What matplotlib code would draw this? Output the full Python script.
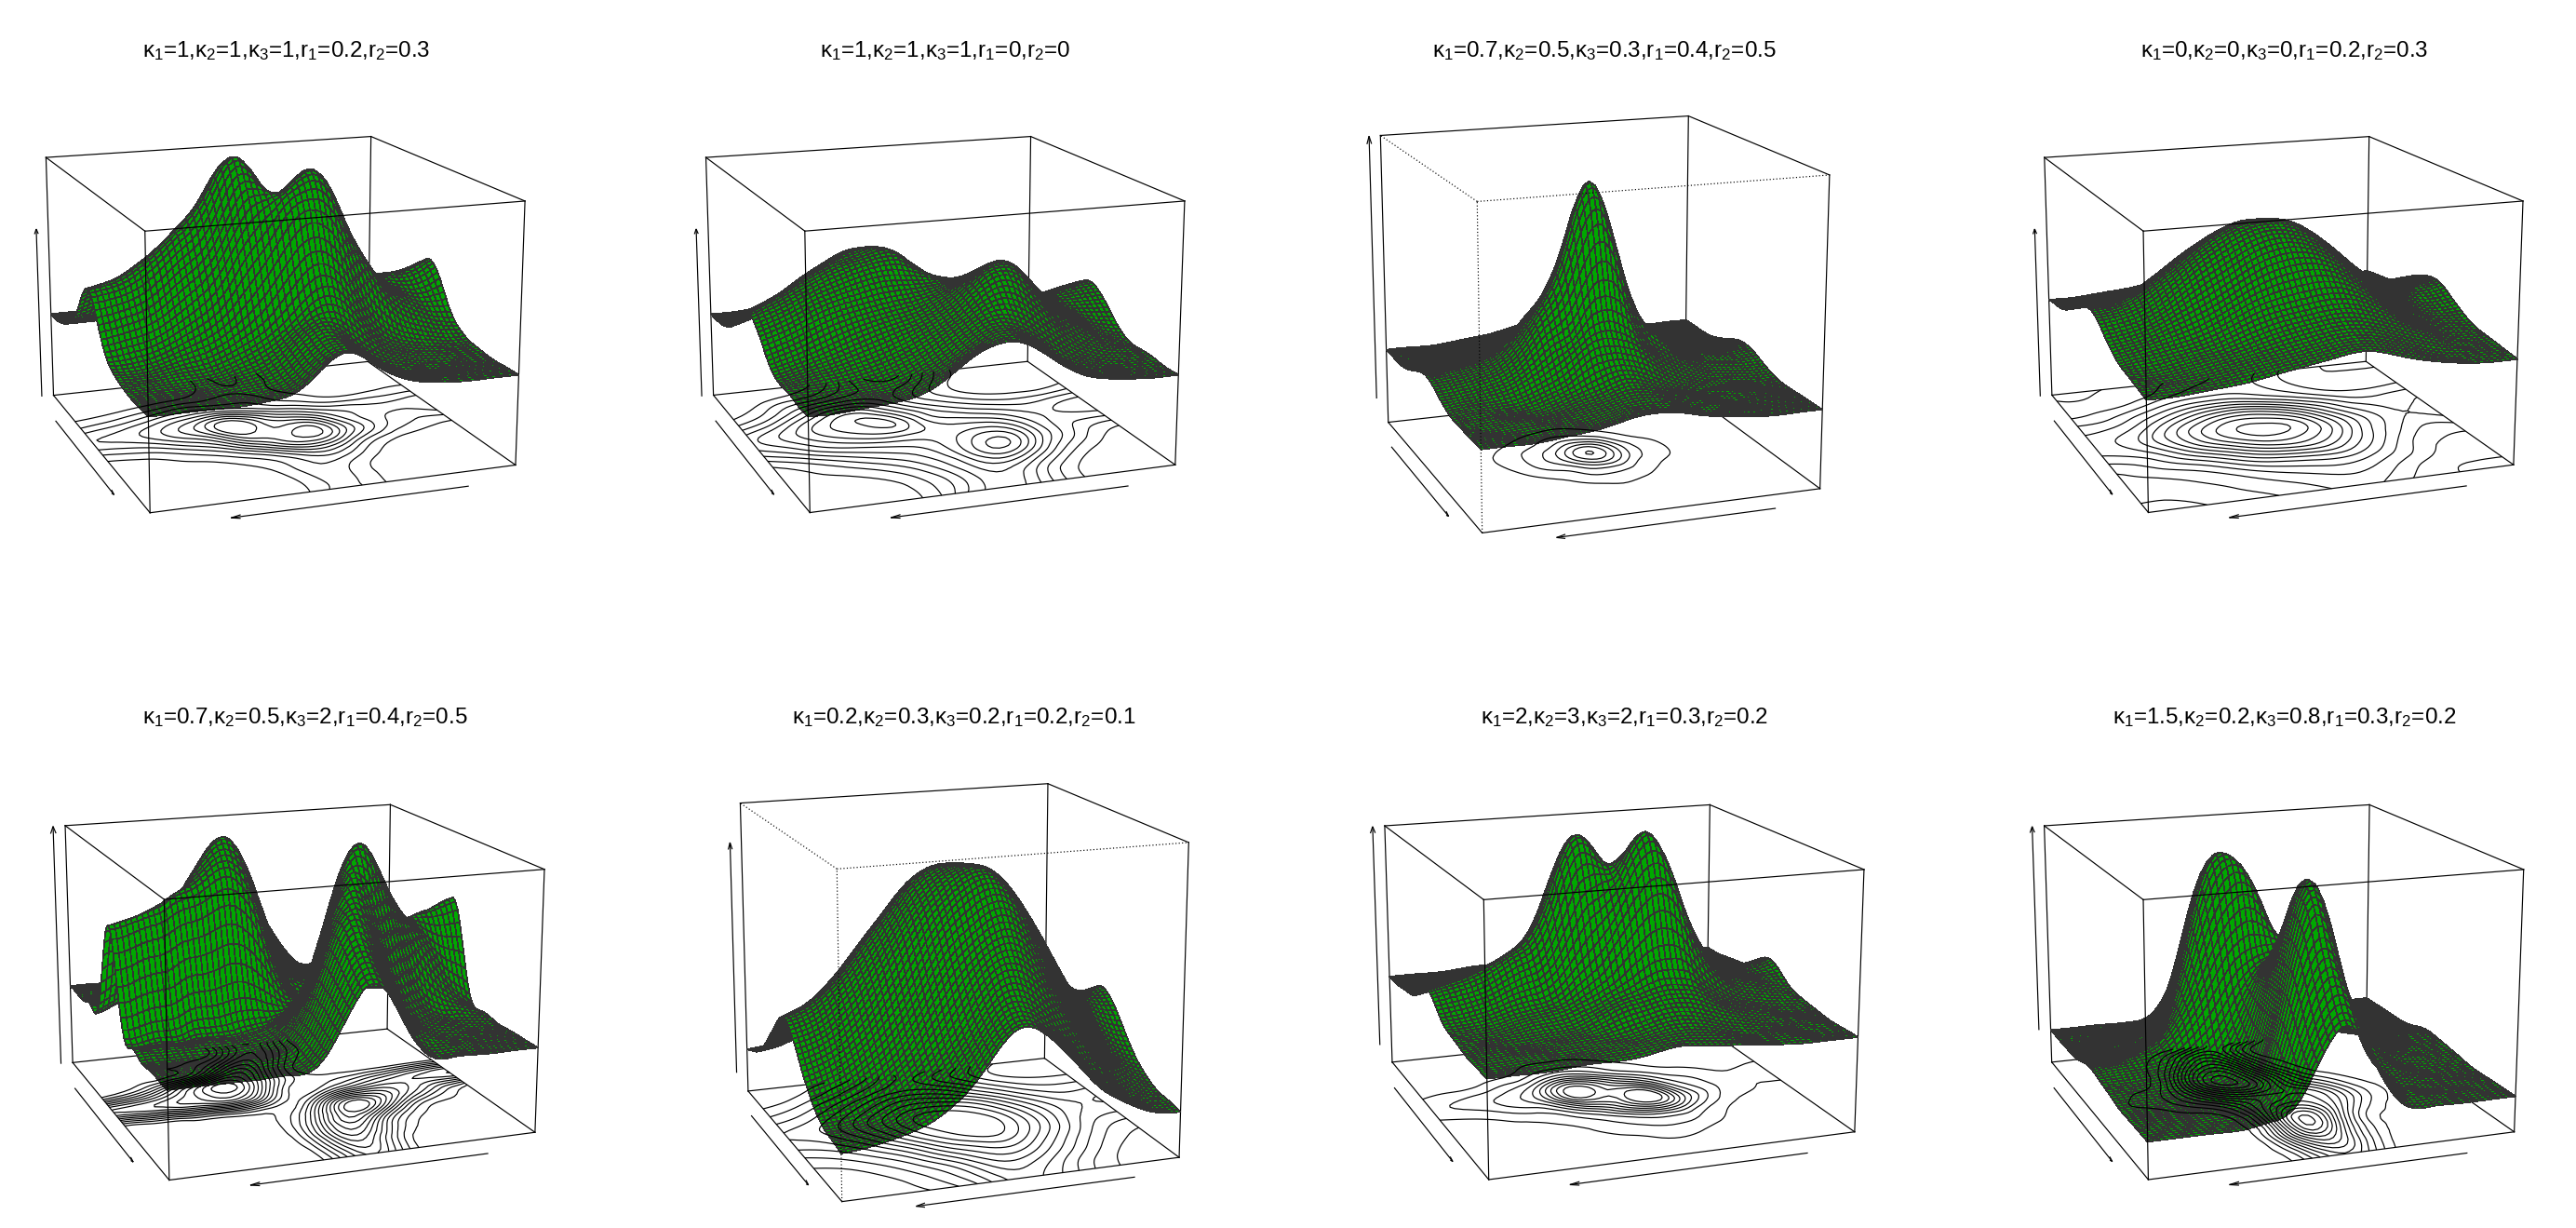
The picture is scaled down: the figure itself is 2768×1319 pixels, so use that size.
import numpy as np
import matplotlib
matplotlib.use('Agg')
import matplotlib.pyplot as plt
import matplotlib.tri as mtri
from mpl_toolkits.mplot3d import proj3d

plt.rcParams['font.family'] = ['Liberation Sans', 'DejaVu Sans']
plt.rcParams['mathtext.fontset'] = 'custom'
plt.rcParams['mathtext.rm'] = 'Liberation Sans'
plt.rcParams['mathtext.it'] = 'Liberation Sans'
plt.rcParams['mathtext.default'] = 'regular'

# panel parameters from the titles
kappa1 = ['1', '1', '0.7', '0', '0.7', '0.2', '2', '1.5']
kappa2 = ['1', '1', '0.5', '0', '0.5', '0.3', '3', '0.2']
kappa3 = ['1', '1', '0.3', '0', '2', '0.2', '2', '0.8']
r1 = ['0.2', '0', '0.4', '0.2', '0.4', '0.2', '0.3', '0.3']
r2 = ['0.3', '0', '0.5', '0.3', '0.5', '0.1', '0.2', '0.2']

# surface heights, in percent of box height
# rows run along the short floor edge, columns along the long floor edge
z1 = [[35,35,35,35,36,41,50,46,39,36,35,35,35],
      [35,35,35,35,36,41,50,47,39,36,35,35,35],
      [35,35,35,36,38,44,53,50,41,37,35,35,35],
      [36,36,37,38,42,48,58,62,50,40,37,36,36],
      [38,38,41,45,52,64,80,84,68,50,42,39,38],
      [44,46,50,58,70,88,96,103,88,66,52,46,44],
      [56,58,64,74,88,104,94,98,84,64,55,52,56],
      [60,63,70,80,94,104,88,78,68,60,56,56,60],
      [50,54,60,68,74,76,66,58,52,47,47,48,50],
      [41,43,47,52,56,54,54,48,43,39,38,40,41],
      [37,37,38,40,42,46,48,44,39,37,36,36,37],
      [35,35,35,36,37,42,48,45,39,36,35,35,35],
      [35,35,35,35,36,41,50,46,39,36,35,35,35]]
z2 = [[35,35,36,37,41,49,54,52,44,38,36,35,35],
      [35,35,36,37,41,47,54,54,46,39,36,35,35],
      [36,36,37,39,43,49,56,59,53,44,38,36,36],
      [36,38,40,43,47,52,59,67,64,52,43,38,36],
      [38,41,45,49,52,55,61,69,70,58,48,41,38],
      [44,48,53,56,58,59,61,65,66,58,49,45,44],
      [50,54,59,63,66,66,62,60,59,54,49,49,50],
      [51,56,62,67,70,70,60,55,52,49,47,49,51],
      [45,50,58,65,69,64,56,50,46,43,42,43,45],
      [39,43,50,57,60,57,50,45,41,38,37,37,39],
      [36,39,44,47,50,51,49,44,39,36,35,35,36],
      [35,36,38,40,44,49,51,48,41,37,35,35,35],
      [35,35,36,37,41,49,54,52,44,38,36,35,35]]
z3 = [[26,26,26,27,28,30,31,30,28,27,26,26,26],
      [26,26,26,27,28,30,31,30,28,27,26,26,26],
      [26,26,27,27,29,31,33,31,29,27,26,26,26],
      [26,27,27,28,31,35,37,34,30,28,27,26,26],
      [27,28,29,32,37,44,46,41,34,30,28,27,27],
      [29,30,32,37,46,56,68,52,39,33,30,29,29],
      [31,32,34,40,52,72,90,62,42,34,31,30,31],
      [31,32,34,39,48,62,76,54,38,33,31,30,31],
      [29,30,31,34,40,47,47,39,33,30,29,29,29],
      [27,28,28,30,33,36,36,32,29,28,27,27,27],
      [26,26,27,28,29,31,32,30,28,27,26,26,26],
      [26,26,26,27,28,30,31,30,28,27,26,26,26],
      [26,26,26,27,28,30,31,30,28,27,26,26,26]]
z4 = [[41,41,42,43,45,47,49,50,47,44,42,41,41],
      [42,42,43,45,47,49,51,52,50,46,43,42,42],
      [43,43,45,47,50,53,55,56,54,50,46,43,43],
      [44,46,48,51,56,60,62,63,60,54,48,45,44],
      [47,49,53,58,64,70,73,72,66,58,51,47,47],
      [51,53,58,66,73,79,81,78,71,61,54,50,51],
      [54,56,62,70,78,83,84,81,72,62,55,52,54],
      [53,55,60,68,75,80,80,76,67,58,53,51,53],
      [50,51,55,61,67,71,71,66,59,53,49,49,50],
      [46,47,50,54,58,60,59,55,51,47,45,45,46],
      [43,44,45,48,51,52,52,50,47,44,43,43,43],
      [42,42,43,44,47,49,50,49,46,43,42,42,42],
      [41,41,42,43,45,47,49,50,47,44,42,41,41]]
z5 = [[33,33,33,33,33,40,60,58,38,33,33,33,33],
      [33,33,33,33,33,42,66,66,42,34,33,33,33],
      [33,33,33,33,34,44,72,78,52,37,34,33,33],
      [33,33,33,33,34,43,70,90,68,44,36,34,33],
      [34,34,34,34,35,40,60,94,96,66,44,38,34],
      [38,40,42,44,46,42,46,78,94,82,64,48,38],
      [67,70,74,78,82,66,42,48,62,68,68,66,67],
      [66,70,78,88,98,84,50,40,44,50,56,62,66],
      [37,44,58,78,96,90,60,40,36,35,35,36,37],
      [34,35,38,44,62,82,66,40,34,33,33,33,34],
      [33,33,34,38,44,62,68,48,36,33,33,33,33],
      [33,33,33,34,36,44,62,54,38,33,33,33,33],
      [33,33,33,33,33,40,60,58,38,33,33,33,33]]
z6 = [[15,16,18,21,27,37,47,45,36,26,20,16,15],
      [16,17,19,24,31,41,51,50,41,30,22,17,16],
      [17,18,22,28,36,47,58,59,50,38,27,20,17],
      [20,22,27,34,45,57,66,69,60,46,33,24,20],
      [25,28,34,43,55,68,76,79,70,55,40,29,25],
      [32,35,42,53,66,77,84,85,76,61,45,35,32],
      [38,41,49,60,72,82,86,85,76,61,47,39,38],
      [39,43,51,62,73,82,84,80,70,56,44,38,39],
      [33,37,45,55,65,73,74,70,60,47,37,32,33],
      [26,30,37,46,55,62,62,57,47,37,29,26,26],
      [20,23,29,36,44,50,51,46,37,28,22,20,20],
      [17,18,22,28,35,43,46,39,31,23,18,17,17],
      [15,16,18,21,27,37,47,45,36,26,20,16,15]]
z7 = [[37,37,37,38,38,39,41,40,39,38,37,37,37],
      [37,37,38,38,39,40,42,42,40,38,38,37,37],
      [37,38,38,39,40,42,45,46,43,40,38,38,37],
      [38,38,39,40,42,47,50,52,49,43,40,38,38],
      [39,39,41,43,46,52,62,70,62,48,42,40,39],
      [41,42,45,48,55,70,84,100,82,57,46,43,41],
      [46,48,52,58,72,96,92,102,76,55,47,44,46],
      [47,50,54,60,78,102,90,78,60,50,45,44,47],
      [42,44,46,52,62,78,70,56,48,44,42,41,42],
      [39,40,41,43,48,54,52,46,43,41,39,39,39],
      [38,38,39,40,43,44,44,42,40,38,38,38,38],
      [37,37,38,39,40,41,42,41,39,38,37,37,37],
      [37,37,37,38,38,39,41,40,39,38,37,37,37]]
z8 = [[14,14,14,14,16,27,47,38,18,14,14,14,14],
      [14,14,14,14,16,34,60,48,22,15,14,14,14],
      [14,14,14,14,16,44,78,58,26,16,14,14,14],
      [14,14,14,14,17,44,90,72,30,18,15,14,14],
      [15,15,15,15,18,44,84,76,42,22,16,15,15],
      [16,16,17,18,24,46,66,66,50,28,18,16,16],
      [17,18,19,26,40,56,60,60,46,26,18,17,17],
      [17,18,21,32,60,82,76,50,32,20,17,17,17],
      [15,16,18,30,72,94,76,44,22,16,15,15,15],
      [14,15,16,24,62,86,66,32,18,15,14,14,14],
      [14,14,15,20,44,70,54,24,16,14,14,14,14],
      [14,14,14,17,30,52,46,20,15,14,14,14,14],
      [14,14,14,14,16,27,47,38,18,14,14,14,14]]
surfaces = [z1, z2, z3, z4, z5, z6, z7, z8]

W, H = 2768, 1319
LINE_W = 0.85
MESH_W = 0.5
GREEN = '#00A800'
MESH = '#333333'
NMESH = 66
ELEV, AZIM = 15.1, -110.0

focal = [.62, .62, .68, .62, .62, .68, .62, .62]
box_h = [.708, .708, .905, .708, .705, .91, .703, .703]
level_start = [41.5, 38.5, 36, 41.8, 38, 21, 43.5, 19]
level_step = [6.5, 3.5, 9, 3.4, 5, 6, 6, 6]
z_arrow = [(0, .71), (0, .71), (.09, 1), (0, .71), (0, 1), (.07, .87), (.08, 1), (.145, 1)]
dotted_front = [False, False, True, False, False, True, False, False]
title_xy = [(308, 55), (1016, 55), (1724, 55), (2455, 55),
            (328, 771), (1036, 771), (1746, 771), (2455, 771)]

panel_origin = [(0, 0), (690, 0), (1380, 0), (2078, 0),
                (0, 730), (690, 730), (1380, 730), (2078, 730)]
crop_sx = [2.272]*8
crop_sy = [2.6]*4 + [2.65]*4
box_crop = [
    [(365,1432),(1258,1298),(131,1102),(900,1010),(353,645),(1283,562),(112,440),(905,383)],
    [(410,1432),(1303,1298),(175,1102),(940,1008),(395,645),(1326,562),(156,440),(947,383)],
    [(482,1490),(1308,1365),(254,1180),(980,1082),(470,565),(1330,488),(235,378),(988,325)],
    [(522,1432),(1415,1298),(290,1102),(1055,1008),(510,645),(1440,562),(270,440),(1062,383)],
    [(412,1425),(1307,1288),(178,1090),(945,993),(400,625),(1330,540),(160,415),(952,358)],
    [(487,1485),(1310,1360),(258,1170),(983,1078),(475,540),(1335,463),(240,352),(992,296)],
    [(497,1425),(1392,1288),(265,1090),(1035,990),(485,625),(1414,540),(247,415),(1038,358)],
    [(522,1425),(1418,1288),(290,1090),(1058,990),(510,625),(1438,540),(270,415),(1062,358)],
]
cube = [(0,0,0),(1,0,0),(0,1,0),(1,1,0),(0,0,1),(1,0,1),(0,1,1),(1,1,1)]
back_edges = [(2,3),(3,1),(3,7),(6,7),(7,5),(2,6),(1,5),(0,1),(0,2)]
front_edges = [(0,4),(4,5),(4,6)]

grid = np.linspace(0, 1, 13)
fine = np.linspace(0, 1, NMESH)

fig = plt.figure(figsize=(W/100, H/100), dpi=100, facecolor='white')


def place_axes(ax, tgt):
    # scale and shift the square axes so the cube lands on the box corners
    ax.apply_aspect()
    M = ax.get_proj()
    pts = np.array([proj3d.proj_transform(c[0], c[1], c[2], M)[:2] for c in cube])
    xc = pts - pts.mean(axis=0)
    tc = tgt - tgt.mean(axis=0)
    s = (xc*tc).sum() / (xc**2).sum()
    vl = ax.viewLim
    side = s*(vl.x1 - vl.x0)
    left = tgt[:, 0].mean() - s*(pts[:, 0].mean() - vl.x0)
    bottom = tgt[:, 1].mean() - s*(pts[:, 1].mean() - vl.y0)
    ax.set_position([left/W, bottom/H, side/W, side/H])


for i in range(8):
    ax = fig.add_axes([0.3, 0.1, 0.2, 0.4], projection='3d')
    ax.computed_zorder = False
    ax.set_facecolor('none')
    ax.set_axis_off()
    ax.view_init(elev=ELEV, azim=AZIM)
    ax.set_proj_type('persp', focal_length=focal[i])
    ax.set_box_aspect((1, 1, box_h[i]))

    # smooth the read table only for drawing the fine mesh
    G0, G1 = np.meshgrid(grid, grid)
    table = np.array(surfaces[i], float)/100
    tri = mtri.Triangulation(G0.ravel(), G1.ravel())
    smooth = mtri.CubicTriInterpolator(tri, table.ravel(), kind='min_E')
    U, V = np.meshgrid(fine, fine)
    Z = np.ma.filled(smooth(U, V), table.min())

    front_ls = (0, (1, 2)) if dotted_front[i] else '-'
    for a, b in back_edges:
        ax.plot(*zip(cube[a], cube[b]), color='k', lw=LINE_W, zorder=1)
    ax.plot_surface(U, V, Z, rstride=1, cstride=1, color=GREEN, edgecolor=MESH,
                    linewidth=MESH_W, shade=False, antialiased=False, zorder=2)
    for a, b in front_edges:
        ax.plot(*zip(cube[a], cube[b]), color='k', lw=LINE_W, ls=front_ls, zorder=3)

    levels = np.arange(level_start[i], 101, level_step[i])/100
    ax.contour(U, V, Z, levels=levels, zdir='z', offset=0, colors='k',
               linewidths=LINE_W, zorder=4)

    # axis direction arrows, no ticks as in the original
    ax.quiver(0.816, -0.1, 0, -0.64, 0, 0, color='k', lw=LINE_W,
              arrow_length_ratio=0.04, zorder=4)
    ax.quiver(-0.05, 0.77, 0, 0, -0.62, 0, color='k', lw=LINE_W,
              arrow_length_ratio=0.04, zorder=4)
    za, zb = z_arrow[i]
    ax.quiver(-0.035, 1, za, 0, 0, zb - za, color='k', lw=LINE_W,
              arrow_length_ratio=0.03, zorder=4)

    ax.set_xlim(0, 1, view_margin=0)
    ax.set_ylim(0, 1, view_margin=0)
    ax.set_zlim(0, 1, view_margin=0)

    ox, oy = panel_origin[i]
    tgt = np.array([(ox + x/crop_sx[i], H - (oy + y/crop_sy[i])) for x, y in box_crop[i]])
    place_axes(ax, tgt)

    title = ('$\\kappa_1$=%s,$\\kappa_2$=%s,$\\kappa_3$=%s,$r_1$=%s,$r_2$=%s'
             % (kappa1[i], kappa2[i], kappa3[i], r1[i], r2[i]))
    fig.text(title_xy[i][0]/W, 1 - title_xy[i][1]/H, title, ha='center', va='center',
             fontsize=17.4, color='k')

fig.savefig('out.png', dpi=100)
